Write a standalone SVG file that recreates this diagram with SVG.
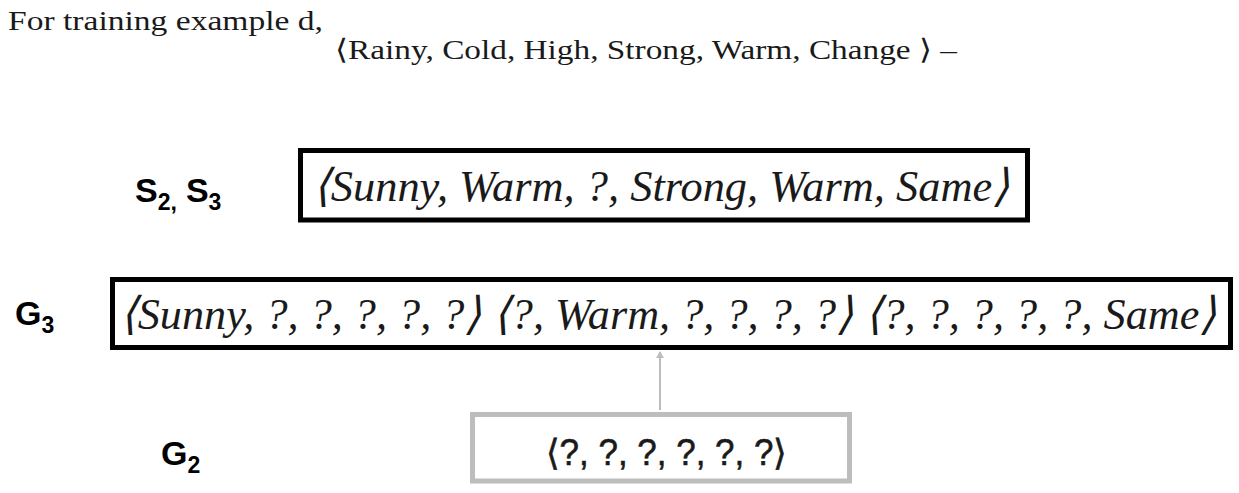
<svg xmlns="http://www.w3.org/2000/svg" width="1239" height="493" viewBox="0 0 1239 493">
<style>
.serif{font-family:"Liberation Serif","Times New Roman",Times,serif;fill:#1a1a1a}
.it{font-family:"Liberation Serif","Times New Roman",Times,serif;font-style:italic;font-size:45px;fill:#1a1a1a}
.lbl{font-family:"Liberation Sans",Arial,sans-serif;font-weight:bold;font-size:34px;fill:#000}
.sub{font-size:23px}
.boxk{fill:#fff;stroke:#000;stroke-width:5}
.boxg{fill:#fff;stroke:#bdbdbd;stroke-width:5}
.conn{stroke:#bdbdbd;stroke-width:2;fill:none}
</style>
<defs>
<marker id="ah" markerWidth="10" markerHeight="10" refX="6" refY="4" orient="auto" markerUnits="userSpaceOnUse">
<path d="M0,0 L7,4 L0,8 z" fill="#bdbdbd"/>
</marker>
</defs>
<rect width="1239" height="493" fill="#fff"/>
<g id="title">
<text class="serif" x="8" y="30" font-size="28" textLength="315" lengthAdjust="spacingAndGlyphs">For training example d,</text>
<text class="serif" x="335" y="59" font-size="28" textLength="622" lengthAdjust="spacingAndGlyphs">⟨Rainy, Cold, High, Strong, Warm, Change ⟩ –</text>
</g>
<g id="connectors">
<line class="conn" x1="660" y1="410" x2="660" y2="352" marker-end="url(#ah)"/>
</g>
<g id="S">
<text class="lbl" x="135" y="202">S<tspan class="sub" dy="8">2,</tspan><tspan dy="-8" dx="9">S</tspan><tspan class="sub" dy="8">3</tspan></text>
<rect class="boxk" x="300.5" y="150.5" width="727" height="69.5"/>
<text class="it" x="313" y="201" textLength="697" lengthAdjust="spacingAndGlyphs">⟨Sunny, Warm, ?, Strong, Warm, Same⟩</text>
</g>
<g id="G3">
<text class="lbl" x="15" y="325">G<tspan class="sub" dy="8">3</tspan></text>
<rect class="boxk" x="112.5" y="279.5" width="1118" height="68"/>
<text class="it" x="120" y="329" textLength="1097" lengthAdjust="spacingAndGlyphs">⟨Sunny, ?, ?, ?, ?, ?⟩ ⟨?, Warm, ?, ?, ?, ?⟩ ⟨?, ?, ?, ?, ?, Same⟩</text>
</g>
<g id="G2">
<text class="lbl" x="161" y="465">G<tspan class="sub" dy="8">2</tspan></text>
<rect class="boxg" x="472.5" y="414.5" width="377" height="66.5"/>
<text x="546" y="465" font-family="'Liberation Sans',Arial,sans-serif" font-size="36" fill="#1a1a1a" stroke="#1a1a1a" stroke-width="0.6" textLength="241" lengthAdjust="spacingAndGlyphs">⟨?, ?, ?, ?, ?, ?⟩</text>
</g>
</svg>
